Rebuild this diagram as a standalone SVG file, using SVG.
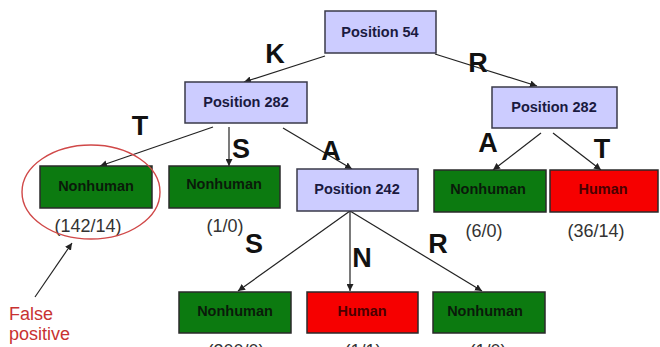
<svg xmlns="http://www.w3.org/2000/svg" width="660" height="347" viewBox="0 0 660 347">
  <style>
    .pos { fill: #ccccff; stroke: #3a3a4a; stroke-width: 1.5; }
    .non { fill: #0c7a10; stroke: #2a2a2a; stroke-width: 1.5; }
    .hum { fill: #f60000; stroke: #2a2a2a; stroke-width: 1.5; }
    .lbl { font-family: "Liberation Sans", Arial, sans-serif; font-weight: bold; font-size: 14.5px; text-anchor: middle; }
    .pos-t { fill: #1a1a40; }
    .non-t { fill: #0a1a0a; }
    .hum-t { fill: #4a0000; }
    .edge { font-family: "Liberation Sans", Arial, sans-serif; font-weight: bold; font-size: 27px; fill: #111; text-anchor: middle; }
    .cnt { font-family: "Liberation Sans", Arial, sans-serif; font-size: 18px; fill: #333; text-anchor: middle; }
    .conn line { stroke: #222; stroke-width: 1.2; marker-end: url(#arr); }
  </style>
  <defs>
    <marker id="arr" viewBox="0 0 10 10" refX="10" refY="5" markerWidth="7" markerHeight="7" markerUnits="userSpaceOnUse" orient="auto">
      <path d="M0,0 L10,5 L0,10 z" fill="#222"/>
    </marker>
  </defs>
  <rect width="660" height="347" fill="#ffffff"/>

  <g class="conn" id="connectors">
    <line x1="325" y1="56" x2="244" y2="82"/>
    <line x1="435" y1="54" x2="537" y2="86"/>
    <line x1="213" y1="127" x2="100" y2="166"/>
    <line x1="229" y1="127" x2="229" y2="166"/>
    <line x1="283" y1="128" x2="352" y2="169"/>
    <line x1="541" y1="133" x2="493" y2="170"/>
    <line x1="553" y1="133" x2="601" y2="170"/>
    <line x1="350" y1="211" x2="238" y2="291"/>
    <line x1="350" y1="211" x2="350" y2="291"/>
    <line x1="350" y1="211" x2="482" y2="291"/>
    <line x1="35" y1="297" x2="72" y2="243"/>
  </g>

  <g id="edge-labels">
    <text class="edge" x="275" y="63">K</text>
    <text class="edge" x="478" y="72">R</text>
    <text class="edge" x="140" y="135">T</text>
    <text class="edge" x="241" y="158">S</text>
    <text class="edge" x="331" y="160">A</text>
    <text class="edge" x="488" y="152">A</text>
    <text class="edge" x="602" y="158">T</text>
    <text class="edge" x="254" y="253">S</text>
    <text class="edge" x="362" y="267">N</text>
    <text class="edge" x="438" y="253">R</text>
  </g>

  <g id="root">
    <rect class="pos" x="325" y="11" width="111" height="42"/>
    <text class="lbl pos-t" x="380" y="37">Position 54</text>
  </g>
  <g id="pos282-left">
    <rect class="pos" x="185" y="82" width="122" height="41"/>
    <text class="lbl pos-t" x="246" y="107">Position 282</text>
  </g>
  <g id="pos282-right">
    <rect class="pos" x="492" y="87" width="125" height="41"/>
    <text class="lbl pos-t" x="554" y="112">Position 282</text>
  </g>
  <g id="pos242">
    <rect class="pos" x="297" y="169" width="121" height="42"/>
    <text class="lbl pos-t" x="357" y="194">Position 242</text>
  </g>

  <g id="leaf-t">
    <rect class="non" x="40" y="166" width="112" height="42"/>
    <text class="lbl non-t" x="96" y="191">Nonhuman</text>
    <text class="cnt" x="88" y="232">(142/14)</text>
  </g>
  <g id="leaf-s">
    <rect class="non" x="169" y="166" width="111" height="42"/>
    <text class="lbl non-t" x="224" y="189">Nonhuman</text>
    <text class="cnt" x="225" y="232">(1/0)</text>
  </g>
  <g id="leaf-a">
    <rect class="non" x="434" y="170" width="112" height="42"/>
    <text class="lbl non-t" x="488" y="194">Nonhuman</text>
    <text class="cnt" x="484" y="237">(6/0)</text>
  </g>
  <g id="leaf-t-right">
    <rect class="hum" x="550" y="170" width="108" height="42"/>
    <text class="lbl hum-t" x="603" y="194">Human</text>
    <text class="cnt" x="596" y="237">(36/14)</text>
  </g>
  <g id="leaf-s2">
    <rect class="non" x="179" y="292" width="112" height="41"/>
    <text class="lbl non-t" x="235" y="316">Nonhuman</text>
    <text class="cnt" x="236" y="357">(300/0)</text>
  </g>
  <g id="leaf-n">
    <rect class="hum" x="307" y="292" width="111" height="41"/>
    <text class="lbl hum-t" x="362" y="316">Human</text>
    <text class="cnt" x="363" y="357">(1/1)</text>
  </g>
  <g id="leaf-r">
    <rect class="non" x="433" y="292" width="112" height="41"/>
    <text class="lbl non-t" x="485" y="316">Nonhuman</text>
    <text class="cnt" x="488" y="357">(1/0)</text>
  </g>

  <g id="false-positive">
    <ellipse cx="91" cy="192" rx="69" ry="47" fill="none" stroke="#d04848" stroke-width="1.4"/>
    <text x="9" y="320" font-family="Liberation Sans, Arial, sans-serif" font-size="18" fill="#c83232">False</text>
    <text x="9" y="340" font-family="Liberation Sans, Arial, sans-serif" font-size="18" fill="#c83232">positive</text>
  </g>
</svg>
